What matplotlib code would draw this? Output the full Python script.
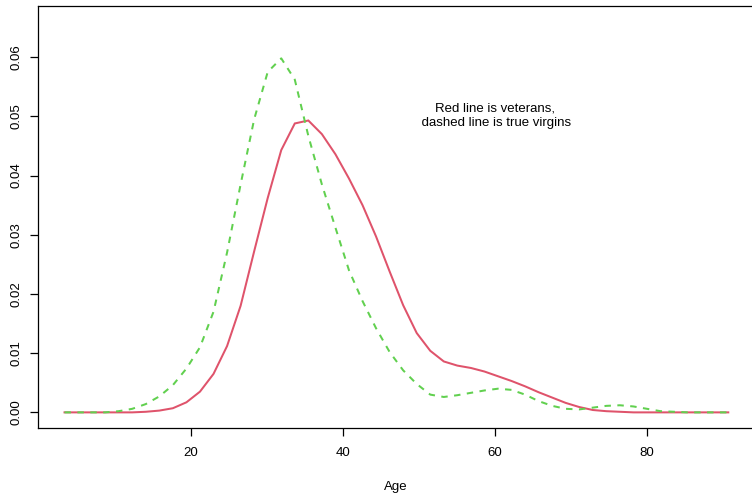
import numpy as np
import matplotlib
matplotlib.use("Agg")
import matplotlib.pyplot as plt

plt.rcParams['font.family'] = ['Liberation Sans', 'DejaVu Sans']

# Density estimates on a common age grid (50 points)
age_start, age_step, n_points = 3.33, 1.783, 50
age = age_start + age_step * np.arange(n_points)

veterans = [
    0.0, 0.0, 0.0, 0.0, 0.0, 0.0, 0.0001, 0.0003, 0.0007, 0.0017,
    0.0035, 0.0065, 0.0112, 0.0180, 0.0272, 0.0362, 0.0443, 0.0488, 0.0493, 0.0470,
    0.0436, 0.0395, 0.0350, 0.0297, 0.0238, 0.0181, 0.0134, 0.0104, 0.0086, 0.0079,
    0.0075, 0.0069, 0.0061, 0.0053, 0.0044, 0.0034, 0.0025, 0.0016, 0.0009, 0.0004,
    0.0002, 0.0001, 0.0, 0.0, 0.0, 0.0, 0.0, 0.0, 0.0, 0.0,
]

true_virgins = [
    0.0, 0.0, 0.0, 0.0, 0.0002, 0.0006, 0.0014, 0.0027, 0.0046, 0.0074,
    0.0110, 0.0170, 0.0270, 0.0385, 0.0495, 0.0575, 0.0598, 0.0562, 0.0467, 0.0385,
    0.0312, 0.0240, 0.0188, 0.0142, 0.0102, 0.0071, 0.0048, 0.0030, 0.0026, 0.0029,
    0.0033, 0.0037, 0.0040, 0.0038, 0.0030, 0.0019, 0.0011, 0.0006, 0.0005, 0.0008,
    0.0011, 0.0012, 0.0010, 0.0006, 0.0002, 0.0001, 0.0, 0.0, 0.0, 0.0,
]

x_ticks = [20, 40, 60, 80]
y_ticks = [0.00, 0.01, 0.02, 0.03, 0.04, 0.05, 0.06]
y_tick_labels = ["0.00", "0.01", "0.02", "0.03", "0.04", "0.05", "0.06"]

W, H = 752, 494
fig = plt.figure(figsize=(W / 100, H / 100), dpi=100)
# plotting region in pixels: left 38, right ~754.5, top 6, bottom 428
ax = fig.add_axes([38 / W, (H - 428) / H, (754.5 - 38) / W, (428 - 6) / H])

ax.plot(age, veterans, color="#DF536B", lw=1.45, solid_joinstyle="miter")
ax.plot(age, true_virgins, color="#61D04F", lw=1.45, dashes=(3.2, 3.2))

ax.set_xlim(-0.16, 94.15)
ax.set_ylim(-0.00264, 0.06864)

ax.set_xticks(x_ticks)
ax.set_xticklabels([str(t) for t in x_ticks])
ax.set_yticks(y_ticks)
ax.set_yticklabels(y_tick_labels, rotation=90, va="center")

ax.tick_params(axis="both", direction="out", length=6, width=0.9,
               labelsize=9.5, colors="black")
ax.tick_params(axis="x", pad=8)
ax.tick_params(axis="y", pad=5)

for side in ["left", "bottom", "top", "right"]:
    ax.spines[side].set_linewidth(0.9)
    ax.spines[side].set_color("black")

ax.set_xlabel("Age", fontsize=9.5, labelpad=15.5)

ax.text(60.0, 0.0501, "Red line is veterans,\n dashed line is true virgins",
        ha="center", va="center", fontsize=9.5, linespacing=1.2)

fig.savefig("out.png", dpi=100)
